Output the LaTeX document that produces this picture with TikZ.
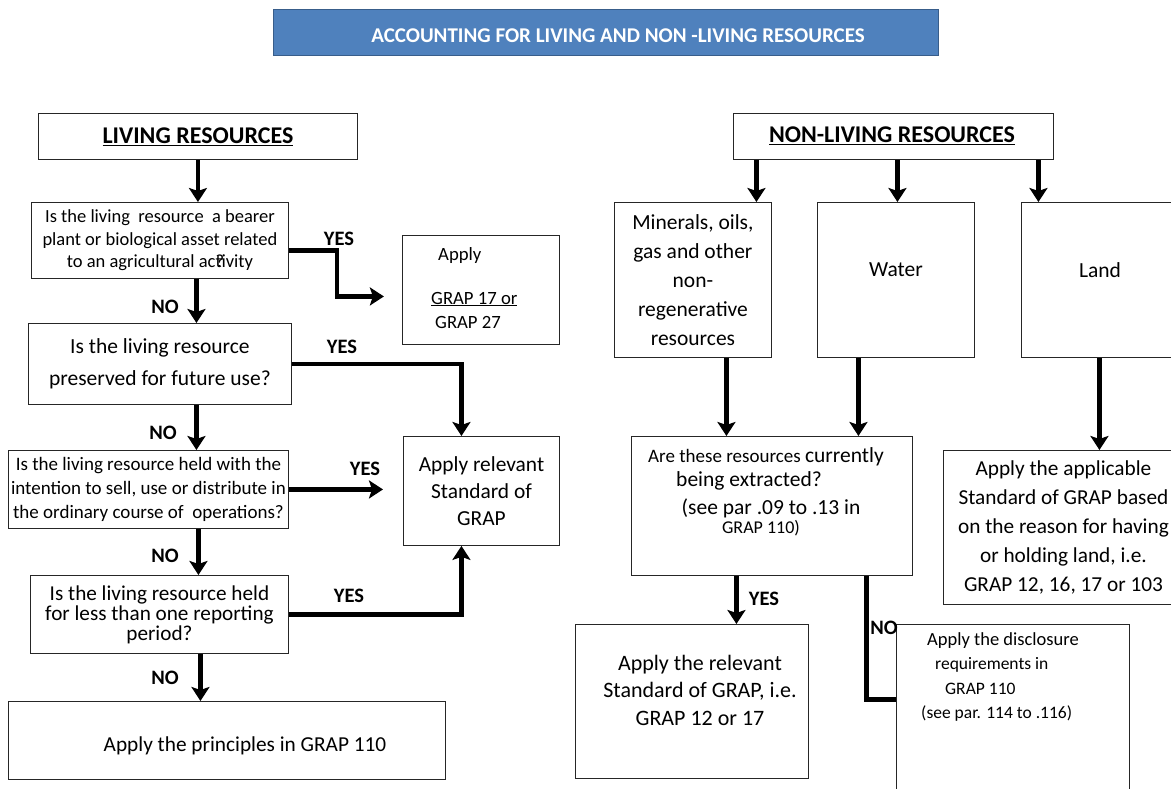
\documentclass[tikz,border=0pt]{standalone}
\usepackage{fontspec}
\setmainfont{Carlito}
\usetikzlibrary{arrows.meta,calc}
\definecolor{titleblue}{HTML}{4F81BD}
\definecolor{titleedge}{HTML}{385D8A}
\begin{document}
\begin{tikzpicture}[x=1pt,y=-1pt,
  box/.style={draw=black!85,line width=0.9pt,anchor=north west,inner sep=0pt,align=center,fill=white},
  lbl/.style={inner sep=0pt,align=center},
  yn/.style={inner sep=0pt,font=\fontsize{20.5}{24}\selectfont\bfseries},
  arr/.style={line width=4.8pt,-{Stealth[length=14pt,width=18pt,inset=3pt]}},
  bar/.style={line width=4.8pt}
]
\useasboundingbox (0,0) rectangle (1171,789);

% title
\node[box,fill=titleblue,draw=titleedge,minimum width=665,minimum height=46] (title) at (273,9) {};
\node[lbl,text=white,font=\fontsize{21}{24}\selectfont\bfseries] (titletext) at (618,36) {ACCOUNTING FOR LIVING AND NON -LIVING RESOURCES};

% ---------- living side ----------
\node[box,minimum width=319,minimum height=46,font=\fontsize{24}{28}\selectfont\bfseries] (lr) at (38,113) {\underline{LIVING RESOURCES}};

\node[box,minimum width=257,minimum height=76,font=\fontsize{18.5}{22.5}\selectfont] (q1) at (31,202)
  {Is the living\ \ resource\ \ a bearer\\ plant or biological asset related\\ to an agricultural ac\rlap{?}tivity};

\node[box,minimum width=157,minimum height=109] (g17) at (402,235) {};
\node[lbl,anchor=west,font=\fontsize{18.7}{22}\selectfont] (g17a) at (438,256) {Apply};
\node[lbl,anchor=west,font=\fontsize{18.7}{22}\selectfont] (g17b) at (431,299) {\underline{GRAP 17 or}};
\node[lbl,anchor=west,font=\fontsize{18.7}{22}\selectfont] (g17c) at (435,322) {GRAP 27};

\node[box,minimum width=263,minimum height=81,font=\fontsize{21.5}{32}\selectfont] (q2) at (28,323)
  {Is the living resource\\ preserved for future use?};

\node[box,minimum width=156,minimum height=109,font=\fontsize{21.4}{27}\selectfont] (app) at (403,436)
  {Apply relevant\\ Standard of\\ GRAP};

\node[box,minimum width=280,minimum height=78,font=\fontsize{19}{24}\selectfont] (q3) at (8,450)
  {Is the living resource held with the\\ intention to sell, use or distribute in\\ the ordinary course of\ \ operations?};

\node[box,minimum width=258,minimum height=78,font=\fontsize{21.2}{20}\selectfont] (q4) at (30,575)
  {Is the living resource held\\ for less than one reporting\\ period?};

\node[box,minimum width=437,minimum height=78] (pr) at (8,701) {};
\node[lbl,font=\fontsize{21.3}{24}\selectfont] (prtext) at (245,746) {Apply the principles in GRAP 110};

% living connectors
\draw[arr] (lr.south) -- (lr.south |- q1.north);
\draw[arr] ([xshift=36.5]q1.south) -- ([xshift=36.5]q1.south |- q2.north);
\draw[arr] ([yshift=-10]q1.east) -- ++(48,0) -- ++(0,46) -- ++(47,0);
\draw[arr] ([xshift=36.5]q2.south) -- ([xshift=36.5]q2.south |- q3.north);
\draw[arr] (q2.east) -| ([xshift=-20]app.north);
\draw[arr] (q3.east) -- ([xshift=-20]app.west |- q3.east);
\draw[arr] ([xshift=50]q3.south) -- ([xshift=50]q3.south |- q4.north);
\draw[arr] (q4.east) -| ([xshift=-20]app.south);
\draw[arr] ([xshift=41]q4.south) -- ([xshift=41]q4.south |- pr.north);

\node[yn] (no1) at (165,307) {NO};
\node[yn] (no2) at (163,433) {NO};
\node[yn] (no3) at (165,556) {NO};
\node[yn] (no4) at (165,678) {NO};
\node[yn] (yes1) at (339,239) {YES};
\node[yn] (yes2) at (342,347) {YES};
\node[yn] (yes3) at (365,469) {YES};
\node[yn] (yes4) at (349,596) {YES};

% ---------- non-living side ----------
\node[box,minimum width=320,minimum height=46] (nlr) at (733,113) {};
\node[lbl,font=\fontsize{24}{28}\selectfont\bfseries] (nlrtext) at (892,136) {\underline{NON-LIVING RESOURCES}};

\node[box,minimum width=157,minimum height=155,font=\fontsize{21.5}{29}\selectfont] (min) at (614,202)
  {Minerals, oils,\\ gas and other\\ non-\\ regenerative\\ resources};
\node[box,minimum width=157,minimum height=155] (wat) at (817,202) {};
\node[lbl,font=\fontsize{21.5}{24}\selectfont] (wattext) at (896,270) {Water};
\node[box,minimum width=170,minimum height=155] (land) at (1021,202) {};
\node[lbl,font=\fontsize{21.5}{24}\selectfont] (landtext) at (1100,270) {Land};

\node[box,minimum width=281,minimum height=139] (are) at (631,436) {};
\node[lbl,font=\fontsize{19}{22}\selectfont] (are1) at (766,457) {Are these resources {\fontsize{21.5}{22}\selectfont currently}};
\node[lbl,font=\fontsize{21.5}{22}\selectfont] (are2) at (749,481) {being extracted?};
\node[lbl,font=\fontsize{21.5}{22}\selectfont] (are3) at (771,508) {(see par .09 to .13 in};
\node[lbl,font=\fontsize{18}{20}\selectfont] (are4) at (761,528) {GRAP 110)};

\node[box,minimum width=240,minimum height=154,font=\fontsize{21.3}{29.2}\selectfont] (lapp) at (943,450)
  {Apply the applicable\\ Standard of GRAP based\\ on the reason for having\\ or holding land, i.e.\\ GRAP 12, 16, 17 or 103};

\node[box,minimum width=233,minimum height=154] (rel) at (575,624) {};
\node[lbl,font=\fontsize{22}{27.5}\selectfont] (reltext) at (700,690) {Apply the relevant\\ Standard of GRAP, i.e.\\ GRAP 12 or 17};

% right connectors
\draw[arr] ([xshift=-137]nlr.south) -- ([xshift=-137]nlr.south |- min.north);
\draw[arr] ([xshift=4]nlr.south) -- ([xshift=4]nlr.south |- wat.north);
\draw[arr] ([xshift=145]nlr.south) -- ([xshift=145]nlr.south |- land.north);
\draw[arr] ([xshift=33.5]min.south) -- ([xshift=33.5]min.south |- are.north);
\draw[arr] ([xshift=-37.5]wat.south) -- ([xshift=-37.5]wat.south |- are.north);
\draw[arr] ([xshift=-7]land.south) -- ([xshift=-7]land.south |- lapp.north);
\draw[arr] ([xshift=-35.5]are.south) -- ([xshift=-35.5]are.south |- rel.north);

\node[box,minimum width=233,minimum height=180] (dis) at (896,624) {};
\node[lbl,anchor=north west,align=left,font=\fontsize{18.5}{24.5}\selectfont] (distext) at (921,632)
  {\hspace*{6pt}Apply the disclosure\\ \hspace*{14pt}{\fontsize{17.5}{24.5}\selectfont requirements in}\\ \hspace*{24pt}{\fontsize{17.5}{24.5}\selectfont GRAP 110}\\ {\fontsize{17.5}{24.5}\selectfont (see par. 114 to .116)}};
\draw[bar] ([xshift=94.5]are.south) |- ([yshift=15]dis.west);

\node[yn] (yes5) at (764,599) {YES};
\node[yn] (no5) at (884,628) {NO};
\end{tikzpicture}
\end{document}
